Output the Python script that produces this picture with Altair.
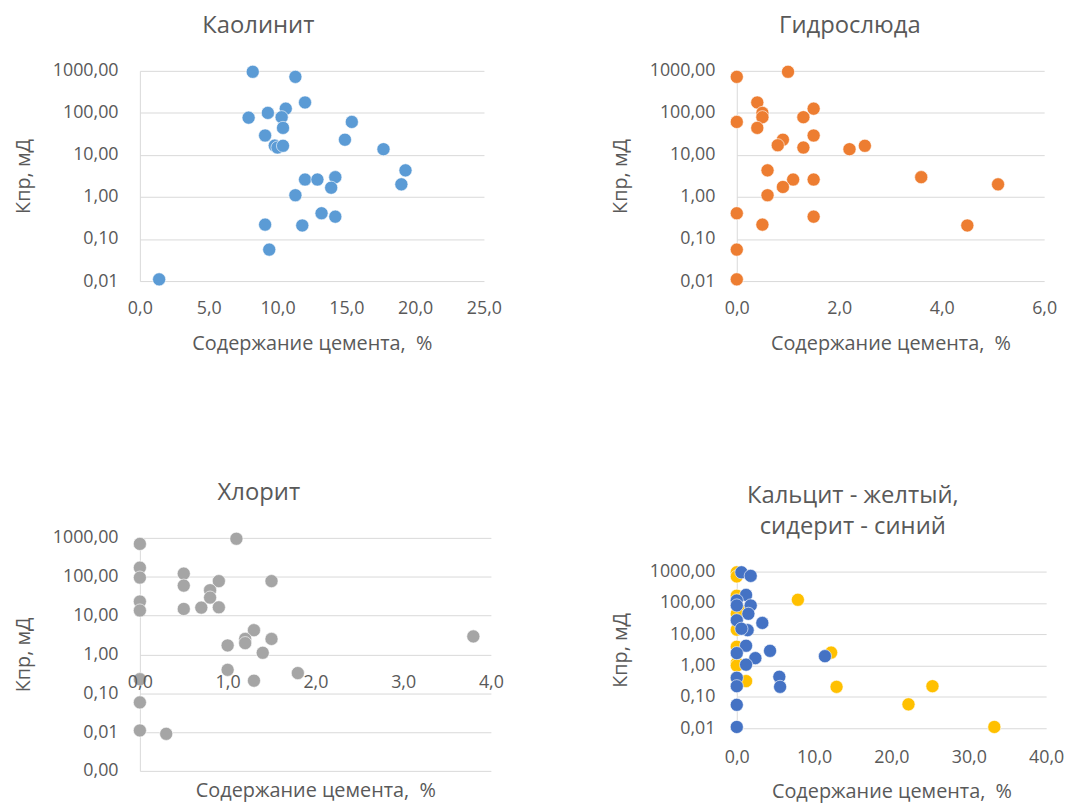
import altair as alt
import pandas as pd

# ---------------- data ----------------
kaol_x = [8.2, 11.3, 12.0, 10.6, 9.3, 7.9, 10.3, 10.4, 15.4, 9.1, 14.9, 9.8, 10.0, 10.4,
          17.7, 19.3, 19.0, 12.0, 12.9, 14.2, 13.9, 11.3, 13.2, 14.2, 9.1, 11.8, 9.4, 1.4]
kaol_y = [950, 720, 177, 126, 100, 77, 79, 44, 61, 29, 23, 16.7, 15, 16.5,
          13.7, 4.3, 2.0, 2.6, 2.6, 2.96, 1.66, 1.1, 0.41, 0.34, 0.22, 0.21, 0.056, 0.011]

hydro_x = [0.0, 1.0, 0.4, 0.5, 0.5, 0.4, 1.5, 1.3, 0.0, 1.5, 0.9, 0.8, 1.3, 2.2,
           2.5, 0.6, 1.1, 1.5, 0.9, 0.6, 3.6, 5.1, 0.0, 0.5, 1.5, 4.5, 0.0, 0.0]
hydro_y = [720, 950, 177, 100, 79, 44, 126, 79, 61, 29, 23, 17, 15, 13.7,
           16.5, 4.3, 2.6, 2.6, 1.73, 1.1, 2.96, 2.0, 0.41, 0.22, 0.34, 0.21, 0.056, 0.011]

chlor_x = [0.0, 1.1, 0.0, 0.0, 0.5, 0.5, 0.9, 1.5, 0.8, 0.8, 0.0, 0.0, 0.5, 0.7, 0.9,
           1.3, 1.2, 1.2, 1.5, 1.0, 1.4, 3.8, 1.0, 1.8, 1.3, 0.0, 0.0, 0.0, 0.3]
chlor_y = [700, 950, 171, 95, 120, 59, 77, 77, 45, 29, 23, 13.5, 14.8, 16, 16.3,
           4.2, 2.5, 1.95, 2.5, 1.7, 1.1, 2.9, 0.40, 0.33, 0.21, 0.23, 0.058, 0.011, 0.009]

calc_x = [0.0, 0.0, 0.0, 0.3, 0.0, 0.2, 0.0, 0.0, 0.0, 0.0, 0.0, 1.2, 7.9, 12.2,
          12.9, 25.3, 22.2, 33.3]
calc_y = [950, 700, 170, 60, 45, 17, 14, 4.0, 1.2, 1.0, 0.40, 0.32, 126, 2.6,
          0.21, 0.22, 0.058, 0.011]

sid_x = [0.6, 1.8, 1.2, 0.0, 1.8, 1.5, 0.0, 3.3, 0.0, 1.4, 0.6, 1.2, 4.3, 0.0, 2.4,
         1.2, 11.4, 5.5, 5.6, 0.0, 0.0, 0.0, 0.0]
sid_y = [950, 730, 180, 120, 83, 45, 83, 23, 28, 13.5, 15, 4.3, 2.95, 2.5, 1.73,
         1.07, 2.0, 0.44, 0.21, 0.41, 0.22, 0.056, 0.011]

y_ticks = [0.01, 0.1, 1, 10, 100, 1000]
y_ticks_chlor = [0.001, 0.01, 0.1, 1, 10, 100, 1000]

FONT = "Open Sans"
TXT = "#595959"
GRID = "#d9d9d9"
X_TITLE = "Содержание цемента,\u00a0\u00a0%"
Y_TITLE = "Кпр, мД"
YLAB = "replace(format(datum.value, '.2f'), '.', ',')"
XLAB = "replace(format(datum.value, '.1f'), '.', ',')"


def panel(df, title, xdom, xticks, ydom, yticks, w, h, color_enc,
          x_offset=0, x_title_pad=16, x_label_pad=19):
    xa = alt.Axis(values=xticks, labelExpr=XLAB, title=X_TITLE, grid=False,
                  domain=False, ticks=False, tickSize=0, labelPadding=x_label_pad,
                  titlePadding=x_title_pad, offset=x_offset, labelFlush=False,
                  zindex=1)
    ya = alt.Axis(values=yticks, labelExpr=YLAB, title=Y_TITLE, grid=True,
                  domain=True, ticks=False, tickSize=0, labelPadding=22,
                  titlePadding=19)
    return alt.Chart(df, title=title).mark_circle(
        size=175, opacity=1, stroke="white", strokeWidth=0.6
    ).encode(
        x=alt.X("x:Q", scale=alt.Scale(domain=xdom, nice=False, zero=False), axis=xa),
        y=alt.Y("y:Q", scale=alt.Scale(type="log", domain=ydom, nice=False), axis=ya),
        color=color_enc,
        order=alt.Order("ord:Q"),
    ).properties(width=w, height=h)


def title(text, dx):
    return alt.Title(text, fontSize=24, font=FONT, color=TXT, fontWeight="normal",
                     offset=24, anchor="middle", lineHeight=31, dx=dx)


df1 = pd.DataFrame({"x": kaol_x, "y": kaol_y, "s": "k", "ord": 0})
df2 = pd.DataFrame({"x": hydro_x, "y": hydro_y, "s": "h", "ord": 0})
df3 = pd.DataFrame({"x": chlor_x, "y": chlor_y, "s": "c", "ord": 0})
df4 = pd.concat([
    pd.DataFrame({"x": calc_x, "y": calc_y, "s": "Кальцит", "ord": 0}),
    pd.DataFrame({"x": sid_x, "y": sid_y, "s": "Сидерит", "ord": 1}),
])

p1 = panel(df1, title("Каолинит", -54), [0, 25], [0, 5, 10, 15, 20, 25], [0.01, 1000],
           y_ticks, 347, 212, alt.value("#5b9bd5"))
p2 = panel(df2, title("Гидрослюда", -41), [0, 6], [0, 2, 4, 6], [0.01, 1000],
           y_ticks, 310, 212, alt.value("#ed7d31"))
p3 = panel(df3, title("Хлорит", -57), [0, 4], [0, 1, 2, 3, 4], [0.001, 1000],
           y_ticks_chlor, 354, 235, alt.value("#a5a5a5"),
           x_offset=-117, x_title_pad=90)
p4 = panel(df4, title(["Кальцит - желтый,", "сидерит - синий"], -39), [0, 40],
           [0, 10, 20, 30, 40], [0.01, 1000], y_ticks, 312, 158,
           alt.Color("s:N", scale=alt.Scale(domain=["Кальцит", "Сидерит"],
                                            range=["#ffc000", "#4472c4"]),
                     legend=None),
           x_label_pad=21, x_title_pad=15)

col1 = alt.vconcat(p1, p3, spacing=259, bounds="flush")
col2 = alt.vconcat(p2, p4, spacing=293, bounds="flush")

chart = alt.hconcat(col1, col2, spacing=107).properties(
    padding={"left": 5, "top": 3, "right": 0, "bottom": 0}
).configure_view(stroke=None).configure_axis(
    labelFont=FONT, titleFont=FONT, labelFontSize=18, titleFontSize=20,
    labelColor=TXT, titleColor=TXT, titleFontWeight="normal",
    gridColor=GRID, domainColor=GRID, gridWidth=1, domainWidth=1,
).configure_title(font=FONT, color=TXT)

chart.save("out.html", embed_options={"renderer": "svg", "actions": False})
